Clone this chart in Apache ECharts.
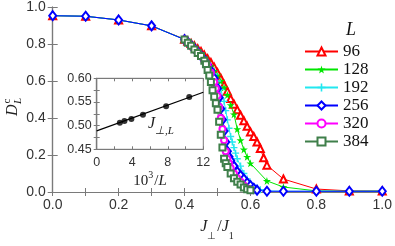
<!DOCTYPE html>
<html>
<head>
<meta charset="utf-8">
<script src="https://cdn.jsdelivr.net/npm/echarts@6/dist/echarts.min.js"></script>
<style>html,body{margin:0;padding:0;background:#fff}#c{width:395px;height:246px}</style>
</head>
<body>
<div id="c"></div>
<script>
// ---- data (J_perp/J1 , D_L^c) ----
const sizes = ['96', '128', '192', '256', '320', '384'];
const J96  = [0, 0.1, 0.2, 0.3, 0.4, 0.41, 0.42, 0.43, 0.44, 0.45, 0.46, 0.47, 0.48, 0.49, 0.50, 0.51, 0.52, 0.53, 0.54, 0.55, 0.56, 0.57, 0.58, 0.59, 0.60, 0.61, 0.62, 0.63, 0.64, 0.65, 0.70, 0.80, 0.90, 1.0];
const D96  = [0.953, 0.95, 0.93, 0.898, 0.826, 0.815, 0.803, 0.79, 0.775, 0.76, 0.74, 0.72, 0.70, 0.675, 0.645, 0.615, 0.58, 0.545, 0.505, 0.475, 0.445, 0.415, 0.385, 0.355, 0.325, 0.30, 0.27, 0.235, 0.185, 0.145, 0.07, 0.016, 0.006, 0.005];
const J128 = [0, 0.1, 0.2, 0.3, 0.4, 0.41, 0.42, 0.43, 0.44, 0.45, 0.46, 0.47, 0.48, 0.49, 0.50, 0.51, 0.52, 0.53, 0.54, 0.55, 0.56, 0.57, 0.58, 0.59, 0.60, 0.65, 0.70, 0.80, 0.90, 1.0];
const D128 = [0.953, 0.95, 0.93, 0.898, 0.825, 0.812, 0.798, 0.782, 0.765, 0.747, 0.727, 0.705, 0.68, 0.655, 0.63, 0.60, 0.565, 0.525, 0.47, 0.42, 0.34, 0.28, 0.23, 0.19, 0.155, 0.06, 0.027, 0.006, 0.004, 0.005];
const J192 = [0, 0.1, 0.2, 0.3, 0.4, 0.41, 0.42, 0.43, 0.44, 0.45, 0.46, 0.47, 0.48, 0.49, 0.50, 0.51, 0.52, 0.525, 0.53, 0.535, 0.54, 0.545, 0.55, 0.555, 0.56, 0.57, 0.58, 0.59, 0.60, 0.61, 0.62, 0.63, 0.65, 0.70, 0.80, 0.90, 1.0];
const D192 = [0.953, 0.95, 0.93, 0.898, 0.824, 0.81, 0.795, 0.778, 0.76, 0.74, 0.718, 0.695, 0.668, 0.638, 0.60, 0.555, 0.49, 0.44, 0.39, 0.345, 0.30, 0.27, 0.24, 0.21, 0.18, 0.14, 0.10, 0.07, 0.045, 0.03, 0.02, 0.012, 0.006, 0.004, 0.004, 0.004, 0.004];
const J256 = [0, 0.1, 0.2, 0.3, 0.4, 0.41, 0.42, 0.43, 0.44, 0.45, 0.46, 0.47, 0.48, 0.49, 0.50, 0.505, 0.51, 0.515, 0.52, 0.525, 0.53, 0.535, 0.54, 0.55, 0.56, 0.57, 0.58, 0.59, 0.60, 0.61, 0.62, 0.65, 0.70, 0.80, 0.90, 1.0];
const D256 = [0.953, 0.95, 0.93, 0.898, 0.824, 0.809, 0.793, 0.775, 0.757, 0.737, 0.714, 0.688, 0.655, 0.615, 0.56, 0.51, 0.45, 0.39, 0.33, 0.27, 0.22, 0.19, 0.17, 0.14, 0.11, 0.09, 0.07, 0.05, 0.035, 0.02, 0.01, 0.004, 0.004, 0.004, 0.004, 0.004];
const J320 = [0.4, 0.41, 0.42, 0.43, 0.44, 0.45, 0.46, 0.47, 0.48, 0.49, 0.495, 0.50, 0.505, 0.51, 0.515, 0.52, 0.525, 0.53, 0.535, 0.54, 0.55, 0.56, 0.57, 0.58, 0.59, 0.60];
const D320 = [0.824, 0.808, 0.791, 0.772, 0.754, 0.734, 0.711, 0.682, 0.645, 0.595, 0.56, 0.52, 0.46, 0.40, 0.34, 0.28, 0.22, 0.18, 0.155, 0.13, 0.10, 0.075, 0.055, 0.035, 0.02, 0.01];
const J384 = [0.4, 0.41, 0.42, 0.43, 0.44, 0.45, 0.46, 0.465, 0.47, 0.475, 0.48, 0.485, 0.49, 0.495, 0.50, 0.505, 0.51, 0.515, 0.52, 0.525, 0.53, 0.54, 0.55, 0.56, 0.57, 0.58, 0.59, 0.60];
const D384 = [0.824, 0.807, 0.79, 0.77, 0.752, 0.735, 0.71, 0.69, 0.66, 0.63, 0.595, 0.55, 0.515, 0.48, 0.445, 0.38, 0.31, 0.24, 0.18, 0.155, 0.135, 0.10, 0.075, 0.055, 0.04, 0.025, 0.015, 0.01];

// inset: 10^3/L vs J_perp,L
const insetX = [2.604, 3.125, 3.906, 5.208, 7.8125, 10.417];
const insetY = [0.5062, 0.5098, 0.514, 0.523, 0.541, 0.5605];
const fitX = [0, 12];
const fitY = [0.489, 0.5705];

const xTicksMain = [0, 1];
const yTicksMain = [0, 1];

// ---- styling ----
const AX = '#7a7a7a';
const LBL = '#333';
const SANS = 'Liberation Sans, Arial, sans-serif';
const SERIF = 'Liberation Serif, Times New Roman, serif';
const STAR = 'path://M50,0 L61,35 L98,35 L68,57 L79,91 L50,70 L21,91 L32,57 L2,35 L39,35 Z';
const PLUS = 'path://M4,0h2v4h4v2h-4v4h-2v-4h-4v-2h4z';

const zip = (a, b) => a.map((v, i) => [v, b[i]]);
const defs = [
  { J: J96, D: D96, color: '#ff0000', symbol: 'emptyTriangle', size: 7 },
  { J: J128, D: D128, color: '#00e600', symbol: STAR, size: 8 },
  { J: J192, D: D192, color: '#22e8f0', symbol: PLUS, size: 7 },
  { J: J256, D: D256, color: '#0000ff', symbol: 'emptyDiamond', size: [7, 9] },
  { J: J320, D: D320, color: '#ff00ff', symbol: 'emptyCircle', size: 6 },
  { J: J384, D: D384, color: '#3f7f4a', symbol: 'emptyRect', size: 6 }
];

const mainSeries = defs.map((d, i) => ({
  name: sizes[i],
  type: 'line',
  xAxisIndex: 0, yAxisIndex: 0,
  data: zip(d.J, d.D),
  symbol: d.symbol,
  symbolSize: d.size,
  color: d.color,
  lineStyle: { width: 1, color: d.color },
  itemStyle: { color: d.color, borderWidth: 1 },
  animation: false
}));

const axisCommon = {
  axisLine: { show: true, lineStyle: { color: AX, width: 1.2 } },
  splitLine: { show: false }
};

const option = {
  animation: false,
  backgroundColor: '#fff',
  grid: [
    { left: 52.7, right: 12, top: 6, bottom: 47, show: false },
    { left: 96.7, top: 78.3, width: 106.6, height: 71, show: true, backgroundColor: '#fff', borderColor: AX, borderWidth: 1 }
  ],
  xAxis: [
    Object.assign({}, axisCommon, {
      gridIndex: 0, type: 'value', min: xTicksMain[0], max: xTicksMain[1], interval: 0.2, position: 'bottom',
      axisTick: { show: true, inside: true, length: 4, lineStyle: { color: AX } },
      minorTick: { show: true, splitNumber: 2, length: 4, lineStyle: { color: AX } },
      axisLabel: { fontFamily: SANS, fontSize: 14, color: LBL, margin: 6, formatter: v => v.toFixed(1) },
      name: '{i|J}{s|⊥}{n|/}{i|J}{s|1}', nameLocation: 'middle', nameGap: 25,
      nameTextStyle: {
        rich: {
          i: { fontFamily: SERIF, fontStyle: 'italic', fontSize: 16, color: '#222', lineHeight: 20 },
          n: { fontFamily: SERIF, fontSize: 16, color: '#222', lineHeight: 20 },
          s: { fontFamily: SERIF, fontSize: 10, color: '#222', lineHeight: 12, verticalAlign: 'bottom', padding: [0, 1, -4, 0] }
        }
      }
    }),
    Object.assign({}, axisCommon, {
      gridIndex: 0, type: 'value', min: xTicksMain[0], max: xTicksMain[1], interval: 0.2, position: 'top',
      axisTick: { show: true, inside: true, length: 4, lineStyle: { color: AX } },
      minorTick: { show: true, splitNumber: 2, length: 4, lineStyle: { color: AX } },
      axisLabel: { show: false }
    }),
    Object.assign({}, axisCommon, {
      gridIndex: 1, type: 'value', min: 0, max: 12, interval: 4, position: 'bottom',
      axisTick: { show: true, inside: true, length: 3, lineStyle: { color: AX } },
      minorTick: { show: true, splitNumber: 2, length: 3, lineStyle: { color: AX } },
      axisLabel: { fontFamily: SANS, fontSize: 12.5, color: LBL, margin: 7 },
      name: '{n|10}{p|3}{n|/}{i|L}', nameLocation: 'middle', nameGap: 22,
      nameTextStyle: {
        rich: {
          i: { fontFamily: SERIF, fontStyle: 'italic', fontSize: 15, color: '#222', lineHeight: 18 },
          n: { fontFamily: SERIF, fontSize: 15, color: '#222', lineHeight: 18 },
          p: { fontFamily: SERIF, fontSize: 10, color: '#222', lineHeight: 10, verticalAlign: 'top', padding: [-2, 1, 0, 0] }
        }
      }
    }),
    Object.assign({}, axisCommon, {
      gridIndex: 1, type: 'value', min: 0, max: 12, interval: 4, position: 'top',
      axisTick: { show: true, inside: true, length: 3, lineStyle: { color: AX } },
      minorTick: { show: true, splitNumber: 2, length: 3, lineStyle: { color: AX } },
      axisLabel: { show: false }
    })
  ],
  yAxis: [
    Object.assign({}, axisCommon, {
      gridIndex: 0, type: 'value', min: yTicksMain[0], max: yTicksMain[1], interval: 0.2, position: 'left',
      axisTick: { show: true, inside: true, length: 5, lineStyle: { color: AX } },
      axisLabel: { fontFamily: SANS, fontSize: 14, color: LBL, margin: 7, formatter: v => v.toFixed(1) }
    }),
    Object.assign({}, axisCommon, {
      gridIndex: 0, type: 'value', min: yTicksMain[0], max: yTicksMain[1], interval: 0.2, position: 'right',
      axisTick: { show: true, inside: true, length: 5, lineStyle: { color: AX } },
      axisLabel: { show: false }
    }),
    Object.assign({}, axisCommon, {
      gridIndex: 1, type: 'value', min: 0.45, max: 0.60, interval: 0.05, position: 'left',
      axisTick: { show: true, inside: true, length: 3, lineStyle: { color: AX } },
      minorTick: { show: true, splitNumber: 2, length: 3, lineStyle: { color: AX } },
      axisLabel: { fontFamily: SANS, fontSize: 12.5, color: LBL, margin: 5, formatter: v => v.toFixed(2) }
    }),
    Object.assign({}, axisCommon, {
      gridIndex: 1, type: 'value', min: 0.45, max: 0.60, interval: 0.05, position: 'right',
      axisTick: { show: true, inside: true, length: 3, lineStyle: { color: AX } },
      minorTick: { show: true, splitNumber: 2, length: 3, lineStyle: { color: AX } },
      axisLabel: { show: false }
    })
  ],
  legend: {
    orient: 'vertical', left: 299, top: 38,
    itemWidth: 33, itemHeight: 10, itemGap: 1,
    data: sizes,
    itemStyle: { borderWidth: 0 },
    textStyle: { fontFamily: SERIF, fontSize: 17, color: '#111', lineHeight: 17, width: 29, align: 'right', padding: [0, 0, 0, 0] }
  },
  graphic: [
    { type: 'text', left: 346, top: 21, style: { text: 'L', font: 'italic 18px ' + SERIF, fill: '#111' } },
    {
      type: 'group', x: 13, y: 116, rotation: Math.PI / 2,
      children: [
        { type: 'text', x: 0, y: 0, style: { text: 'D', font: 'italic 16px ' + SERIF, fill: '#222', verticalAlign: 'middle', align: 'left' } },
        { type: 'text', x: 12.5, y: -6, style: { text: 'c', font: '11px ' + SERIF, fill: '#222', verticalAlign: 'middle', align: 'left' } },
        { type: 'text', x: 12, y: 5, style: { text: 'L', font: 'italic 11px ' + SERIF, fill: '#222', verticalAlign: 'middle', align: 'left' } }
      ]
    },
    {
      type: 'text', left: 148, top: 116,
      style: {
        text: '{i|J}{s|⊥,L}',
        rich: {
          i: { fontFamily: SERIF, fontStyle: 'italic', fontSize: 16, fill: '#222', lineHeight: 18 },
          s: { fontFamily: SERIF, fontStyle: 'italic', fontSize: 11, fill: '#222', lineHeight: 12, verticalAlign: 'bottom', padding: [0, 0, -4, 0] }
        }
      }
    }
  ],
  series: mainSeries.concat([
    {
      name: 'fit', type: 'line', xAxisIndex: 2, yAxisIndex: 2,
      data: zip(fitX, fitY), showSymbol: false, symbol: 'none',
      lineStyle: { color: '#000', width: 1.2 }, animation: false
    },
    {
      name: 'Jc', type: 'scatter', xAxisIndex: 2, yAxisIndex: 2,
      data: zip(insetX, insetY), symbol: 'circle', symbolSize: 6,
      itemStyle: { color: '#000' }, animation: false
    }
  ])
};

const chart = echarts.init(document.getElementById('c'), null, { renderer: 'canvas' });
chart.setOption(option);
</script>
</body>
</html>
